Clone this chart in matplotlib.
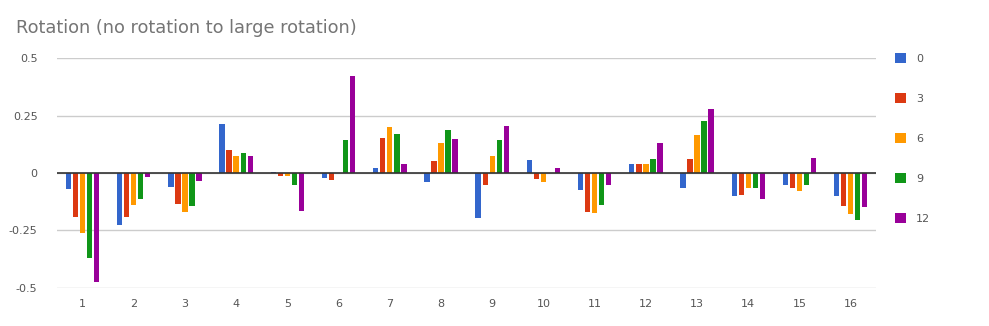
import numpy as np
import matplotlib
matplotlib.use("Agg")
import matplotlib.pyplot as plt
from matplotlib.patches import Patch

categories = [str(i) for i in range(1, 17)]
series_names = ["0", "3", "6", "9", "12"]

rot_0 = [-0.070, -0.224, -0.061, 0.215, 0.006, -0.023, 0.023, -0.037,
         -0.194, 0.058, -0.076, 0.037, -0.067, -0.098, -0.054, -0.098]
rot_3 = [-0.190, -0.190, -0.133, 0.102, -0.015, -0.032, 0.151, 0.054,
         -0.050, -0.028, -0.168, 0.041, 0.063, -0.094, -0.067, -0.142]
rot_6 = [-0.263, -0.137, -0.168, 0.072, -0.015, 0.000, 0.199, 0.129,
         0.072, -0.037, -0.173, 0.041, 0.164, -0.067, -0.080, -0.177]
rot_9 = [-0.368, -0.111, -0.142, 0.085, -0.050, 0.142, 0.168, 0.186,
         0.142, 0.002, -0.137, 0.063, 0.225, -0.067, -0.054, -0.203]
rot_12 = [-0.474, -0.018, -0.035, 0.072, -0.164, 0.423, 0.037, 0.146,
          0.203, 0.023, -0.050, 0.129, 0.278, -0.115, 0.067, -0.146]

yticks = [-0.5, -0.25, 0, 0.25, 0.5]
ytick_labels = ["-0.5", "-0.25", "0", "0.25", "0.5"]

colors = ["#3366cc", "#dc3912", "#ff9900", "#109618", "#990099"]
all_series = [rot_0, rot_3, rot_6, rot_9, rot_12]

fig = plt.figure(figsize=(9.89, 3.26), dpi=100)
ax = fig.add_axes([0.0576, 0.1166, 0.8284, 0.7054])

x = np.arange(len(categories))
pitch = 0.137
width = 0.105
for i, (vals, c) in enumerate(zip(all_series, colors)):
    ax.bar(x + (i - 2) * pitch, vals, width, color=c, zorder=3)

ax.set_xlim(-0.5, len(categories) - 0.5)
ax.set_ylim(-0.5, 0.5)
ax.set_yticks(yticks)
ax.set_yticklabels(ytick_labels)
ax.set_xticks(x)
ax.set_xticklabels(categories)
ax.grid(axis="y", color="#cccccc", linewidth=1, zorder=0)
ax.axhline(0, color="#333333", linewidth=1.2, zorder=4)
for s in ax.spines.values():
    s.set_visible(False)
ax.tick_params(length=0, labelsize=8, colors="#555555")
ax.tick_params(axis="y", pad=14)
ax.tick_params(axis="x", pad=8)

fig.text(0.016, 0.915, "Rotation (no rotation to large rotation)",
         fontsize=12.8, color="#757575", va="center")

handles = [Patch(facecolor=c, label=n) for c, n in zip(colors, series_names)]
fig.legend(handles=handles, loc="upper left", bbox_to_anchor=(0.895, 0.868),
           frameon=False, fontsize=8, handlelength=1.0, handleheight=1.0,
           labelspacing=2.63, handletextpad=0.9, labelcolor="#555555")

fig.savefig("out.png", dpi=100)
